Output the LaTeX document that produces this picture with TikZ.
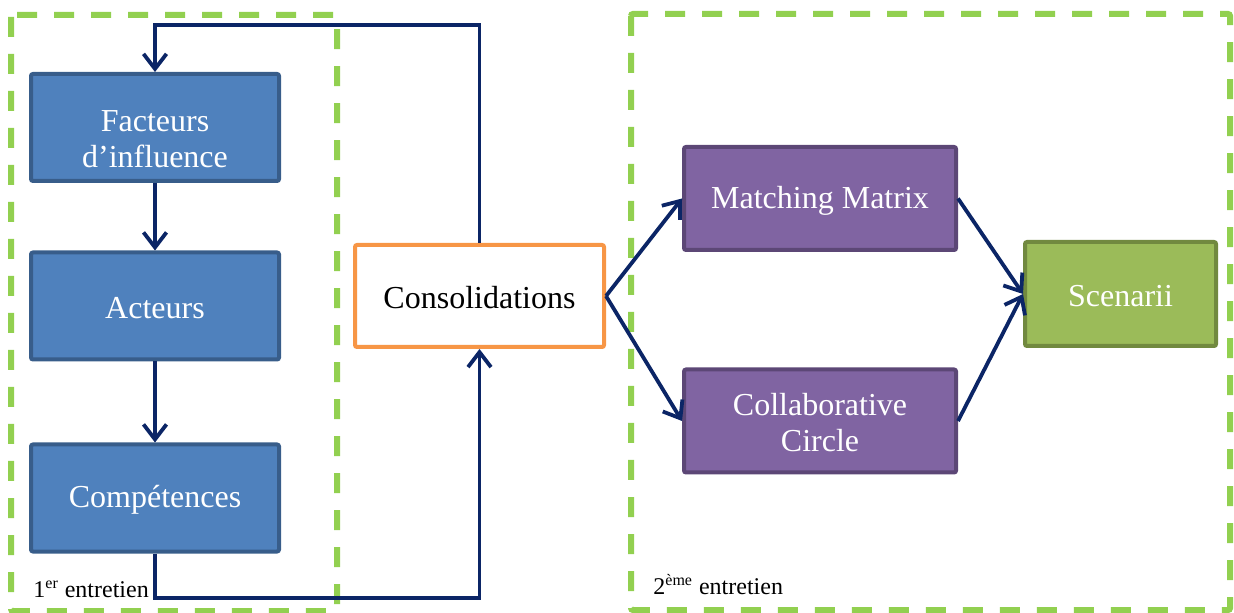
\documentclass[tikz,border=0pt]{standalone}
\usepackage{fontspec}
\setmainfont{Liberation Serif}
\usetikzlibrary{arrows.meta}
\definecolor{dashgreen}{HTML}{92D050}
\definecolor{navy}{HTML}{0B2566}
\definecolor{bluefill}{HTML}{4F81BD}
\definecolor{blueline}{HTML}{385D8A}
\definecolor{purplefill}{HTML}{8064A2}
\definecolor{purpleline}{HTML}{5C4776}
\definecolor{greenfill}{HTML}{9BBB59}
\definecolor{greenline}{HTML}{71893F}
\definecolor{orangeline}{HTML}{F79646}
\tikzset{
  box/.style={draw, line width=2pt, rounded corners=1pt, inner sep=0pt},
  boxtext/.style={align=center, text=white, font=\fontsize{16}{18}\selectfont, inner sep=0pt, yshift=-1pt},
  bluebox/.style={box, fill=bluefill, draw=blueline, minimum width=124pt, minimum height=53.5pt},
  purplebox/.style={box, fill=purplefill, draw=purpleline, minimum width=136pt, minimum height=51.5pt},
  greenbox/.style={box, fill=greenfill, draw=greenline, minimum width=95.5pt, minimum height=52pt},
  orangebox/.style={box, fill=white, draw=orangeline, minimum width=124.5pt, minimum height=51pt},
  zone/.style={draw=dashgreen, line width=3pt, dash pattern=on 10pt off 8.5pt, rounded corners=1pt},
  conn/.style={draw=navy, line width=1.9pt, -{Straight Barb[length=7.5pt,width=11.5pt,line width=1.9pt]}},
  lbl/.style={font=\fontsize{12}{14}\selectfont, inner sep=0pt, anchor=base west}
}
\begin{document}
\begin{tikzpicture}[x=0.5pt,y=-0.5pt]
\useasboundingbox (0,0) rectangle (1234,613);
\draw[zone] (11,15) rectangle (337,611);
\draw[zone] (631,14) rectangle (1230,610);

\node[bluebox] (fact) at (155,127.5) {};
\node[boxtext, yshift=-5pt] (factt) at (fact.center) {Facteurs\\d’influence};
\node[bluebox] (act) at (155,306) {};
\node[boxtext] (actt) at (act.center) {Acteurs};
\node[bluebox] (comp) at (155,498) {};
\node[boxtext] (compt) at (comp.center) {Compétences};
\node[orangebox] (cons) at (479.5,296) {};
\node[boxtext, text=black] (const) at (cons.center) {Consolidations};
\node[purplebox] (mm) at (820,198.5) {};
\node[boxtext] (mmt) at (mm.center) {Matching Matrix};
\node[purplebox] (cc) at (820,421) {};
\node[boxtext] (cct) at (cc.center) {Collaborative\\Circle};
\node[greenbox] (sc) at (1120.5,294) {};
\node[boxtext] (sct) at (sc.center) {Scenarii};

\node[lbl] (l1) at (33,597) {1\textsuperscript{er} entretien};
\node[lbl] (l2) at (653,594) {2\textsuperscript{ème} entretien};

\coordinate (top) at (0,25);
\coordinate (bot) at (0,598);

\draw[conn] (fact) -- (act);
\draw[conn] (act) -- (comp);
\draw[conn] (cons.north) -- (cons.north |- top) -- (fact.north |- top) -- (fact.north);
\draw[conn] (comp.south) -- (comp.south |- bot) -- (cons.south |- bot) -- (cons.south);
\draw[conn] (cons.east) -- (mm.west);
\draw[conn] (cons.east) -- (cc.west);
\draw[conn] (mm.east) -- (sc.west);
\draw[conn] (cc.east) -- (sc.west);
\end{tikzpicture}
\end{document}
